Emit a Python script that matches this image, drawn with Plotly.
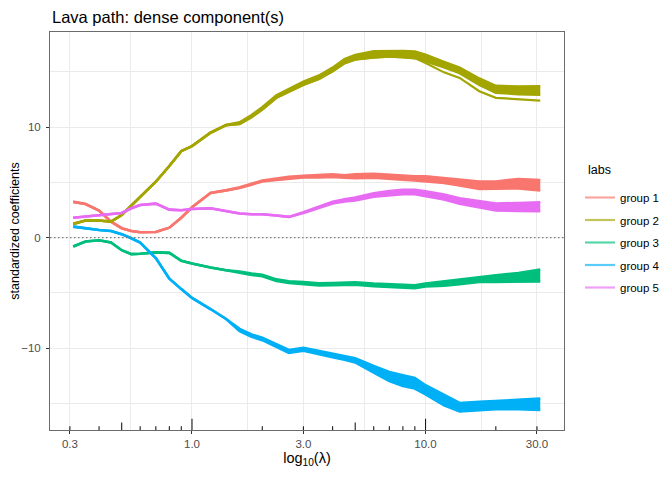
import numpy as np
import plotly.graph_objects as go

# lambda grid (x) shared by every path
lam = [0.31, 0.35, 0.4, 0.45, 0.5, 0.55, 0.6, 0.7, 0.8, 0.9, 1.0, 1.2, 1.4, 1.6, 1.8,
       2.0, 2.3, 2.6, 3.0, 3.5, 4.0, 4.5, 5.0, 6.0, 7.0, 8.0, 9.0, 10, 12, 14, 17, 20, 25, 31]

# upper / lower edge of each bundle of coefficient paths
g1_hi = [3.24, 3.04, 2.45, 1.45, 0.86, 0.61, 0.49, 0.52, 0.91, 1.8, 2.75, 4.05, 4.28, 4.55, 4.87,
         5.18, 5.34, 5.5, 5.6, 5.68, 5.74, 5.65, 5.74, 5.77, 5.68, 5.62, 5.56, 5.55, 5.38, 5.23, 5.08, 5.08, 5.31, 5.22]
g1_lo = [3.24, 3.04, 2.45, 1.45, 0.86, 0.61, 0.49, 0.52, 0.91, 1.8, 2.75, 4.05, 4.28, 4.49, 4.79,
         5.08, 5.22, 5.35, 5.45, 5.45, 5.5, 5.42, 5.39, 5.42, 5.36, 5.24, 5.18, 5.1, 4.94, 4.73, 4.4, 4.43, 4.46, 4.26]

g2_hi = [1.25, 1.55, 1.55, 1.45, 2.05, 2.9, 3.6, 5.06, 6.48, 7.83, 8.28, 9.49, 10.18, 10.44, 11.09,
         11.79, 12.88, 13.43, 14.11, 14.66, 15.37, 16.14, 16.52, 16.85, 16.9, 16.88, 16.84, 16.55, 15.9, 15.38, 14.39, 13.73, 13.67, 13.68]
g2_lo = [1.25, 1.55, 1.55, 1.45, 2.05, 2.9, 3.6, 5.06, 6.48, 7.83, 8.28, 9.49, 10.18, 10.28, 10.91,
         11.59, 12.66, 13.19, 13.83, 14.36, 15.05, 15.78, 16.12, 16.3, 16.38, 16.32, 16.24, 15.95, 15.42, 14.88, 13.82, 13.12, 12.98, 12.92]
# the one group 2 path that splits off below the bundle
g2_alt = [1.25, 1.55, 1.55, 1.45, 2.05, 2.9, 3.6, 5.06, 6.48, 7.83, 8.28, 9.49, 10.18, 10.28, 10.91,
          11.59, 12.66, 13.19, 13.83, 14.36, 15.05, 15.78, 16.12, 16.3, 16.38, 16.32, 16.24, 15.8, 14.95, 14.45, 13.25, 12.65, 12.5, 12.4]

g3_hi = [-0.8, -0.35, -0.23, -0.44, -1.13, -1.49, -1.45, -1.33, -1.37, -2.09, -2.33, -2.7, -2.94, -3.06, -3.24,
         -3.35, -3.77, -3.94, -4.02, -4.13, -4.1, -4.04, -4.03, -4.14, -4.2, -4.25, -4.3, -4.15, -3.95, -3.8, -3.55, -3.4, -3.2, -2.87]
g3_lo = [-0.8, -0.35, -0.23, -0.44, -1.13, -1.49, -1.45, -1.33, -1.37, -2.09, -2.33, -2.7, -2.94, -3.18, -3.36,
         -3.49, -3.91, -4.1, -4.2, -4.33, -4.3, -4.24, -4.25, -4.38, -4.44, -4.51, -4.56, -4.42, -4.35, -4.2, -4.0, -4.0, -3.95, -3.95]

g4_hi = [1.0, 0.83, 0.7, 0.61, 0.32, -0.05, -0.45, -1.85, -3.7, -4.65, -5.45, -6.45, -7.35, -8.24, -8.75,
         -9.05, -9.65, -10.15, -9.97, -10.23, -10.52, -10.72, -10.9, -11.6, -12.14, -12.44, -12.68, -13.34, -14.24, -14.95, -14.85, -14.77, -14.67, -14.55]
g4_lo = [1.0, 0.83, 0.7, 0.61, 0.32, -0.05, -0.45, -1.85, -3.7, -4.65, -5.45, -6.45, -7.35, -8.46, -8.97,
         -9.27, -9.89, -10.41, -10.23, -10.51, -10.82, -11.04, -11.28, -12.2, -12.96, -13.41, -13.64, -14.16, -15.15, -15.72, -15.58, -15.51, -15.51, -15.57]

g5_hi = [1.8, 1.9, 2.03, 2.09, 2.24, 2.66, 2.96, 3.08, 2.54, 2.48, 2.6, 2.66, 2.42, 2.18, 2.12,
         2.12, 2.0, 1.88, 2.31, 2.78, 3.25, 3.48, 3.63, 4.01, 4.22, 4.32, 4.33, 4.19, 3.91, 3.57, 3.3, 3.09, 3.14, 3.21]
g5_lo = [1.8, 1.9, 2.03, 2.09, 2.24, 2.66, 2.96, 3.08, 2.54, 2.48, 2.6, 2.66, 2.42, 2.18, 2.12,
         2.12, 2.0, 1.88, 2.23, 2.66, 3.09, 3.28, 3.37, 3.71, 3.86, 3.94, 3.93, 3.77, 3.45, 3.07, 2.74, 2.47, 2.42, 2.39]

group_names = ["group 1", "group 2", "group 3", "group 4", "group 5"]
group_colors = ["#F8766D", "#A3A500", "#00BF7D", "#00B0F6", "#E76BF3"]
legend_colors = ["rgba(248,118,109,0.65)", "rgba(163,165,0,0.65)", "rgba(0,191,125,0.65)",
                 "rgba(0,176,246,0.65)", "rgba(231,107,243,0.65)"]

x_ticks = [0.3, 1, 3, 10, 30]
x_ticktext = ["0.3", "1.0", "3.0", "10.0", "30.0"]
x_minor = [0.5477, 1.732, 5.477, 17.32]
y_ticks = [-10, 0, 10]
y_minor = [-15, -5, 5, 15]
logtick_vals = [0.3, 0.4, 0.5, 0.6, 0.7, 0.8, 0.9, 1, 2, 3, 4, 5, 6, 7, 8, 9, 10, 20, 30]

X_RANGE = [-0.608, 1.593]
Y_RANGE = [-17.39, 18.6]
FONT = "Liberation Sans, Arial, sans-serif"

# the page body has an 8px margin, so everything is laid out 8px up/left
OFF = 8
MARGIN = dict(l=50 - OFF, r=108 + OFF, t=32 - OFF, b=50 + OFF)
PLOT_W = 672 - MARGIN["l"] - MARGIN["r"]
PLOT_H = 480 - MARGIN["t"] - MARGIN["b"]


def add_bundle(fig, hi, lo, name, color):
    fig.add_trace(go.Scatter(x=lam, y=lo, mode="lines", name=name, legendgroup=name,
                             showlegend=False, line=dict(color=color, width=2.6)))
    fig.add_trace(go.Scatter(x=lam, y=hi, mode="lines", name=name, legendgroup=name,
                             showlegend=False, fill="tonexty", fillcolor=color,
                             line=dict(color=color, width=2.6)))


def logtick_trace():
    # annotation_logticks style marks along the bottom of the panel
    px_per_unit = PLOT_H / (Y_RANGE[1] - Y_RANGE[0])
    xs, ys = [], []
    for v in logtick_vals:
        mant = round(v / 10 ** np.floor(np.log10(v) + 1e-9))
        length = 11.3 if mant == 1 else (7.6 if mant == 5 else 3.8)
        xs += [v, v, None]
        ys += [Y_RANGE[0], Y_RANGE[0] + length / px_per_unit, None]
    return go.Scatter(x=xs, y=ys, mode="lines", showlegend=False, hoverinfo="skip",
                      line=dict(color="#1a1a1a", width=1.1), cliponaxis=False)


fig = go.Figure()
bundles = [(g1_hi, g1_lo), (g2_hi, g2_lo), (g3_hi, g3_lo), (g4_hi, g4_lo), (g5_hi, g5_lo)]
for (hi, lo), name, color in zip(bundles, group_names, group_colors):
    add_bundle(fig, hi, lo, name, color)
    if name == "group 2":
        fig.add_trace(go.Scatter(x=lam, y=g2_alt, mode="lines", legendgroup=name, showlegend=False,
                                 line=dict(color=color, width=2.2)))

# legend keys (paler, like the ggplot keys)
for name, color in zip(group_names, legend_colors):
    fig.add_trace(go.Scatter(x=[None], y=[None], mode="lines", name=name, legendgroup=name,
                             line=dict(color=color, width=2.2)))

fig.add_trace(logtick_trace())
fig.add_hline(y=0, line=dict(color="#7a7a7a", width=1.3, dash="1.5px,2.5px"))

# legend title as its own text so the gap to the keys matches
fig.add_annotation(text="labs", xref="paper", yref="paper",
                   x=(586 - 50) / PLOT_W, y=(430 - 170) / PLOT_H, xanchor="left", yanchor="middle",
                   showarrow=False, font=dict(size=12.5, color="black"))

fig.update_layout(
    width=672, height=480,
    margin=MARGIN,
    paper_bgcolor="white", plot_bgcolor="white",
    font=dict(family=FONT, color="black"),
    title=dict(text="Lava path: dense component(s)", x=(52 - OFF) / 672, xref="container", xanchor="left",
               y=1 - 9.5 / 480, yref="container", yanchor="middle",
               font=dict(size=16.5, color="black")),
    legend=dict(font=dict(size=11.5), x=(580 - 50) / PLOT_W, xanchor="left",
                y=(430 - 242.5) / PLOT_H, yanchor="middle", tracegroupgap=3.5,
                bgcolor="rgba(0,0,0,0)"),
    showlegend=True,
)

fig.update_xaxes(type="log", range=X_RANGE, tickvals=x_ticks, ticktext=x_ticktext, automargin=False,
                 showgrid=True, gridcolor="#EBEBEB", gridwidth=1.1,
                 minor=dict(tickvals=x_minor, showgrid=True, gridcolor="#EBEBEB", gridwidth=0.55, ticks=""),
                 ticks="outside", ticklen=3, tickcolor="#333333", tickwidth=1,
                 tickfont=dict(size=11.5, color="#4D4D4D"),
                 showline=True, mirror=True, linecolor="#6b6b6b", linewidth=1, zeroline=False,
                 title=dict(text="log<sub>10</sub>(λ)", font=dict(size=14.5), standoff=4))
fig.update_yaxes(range=Y_RANGE, tickvals=y_ticks, automargin=False,
                 showgrid=True, gridcolor="#EBEBEB", gridwidth=1.1,
                 minor=dict(tickvals=y_minor, showgrid=True, gridcolor="#EBEBEB", gridwidth=0.55, ticks=""),
                 ticks="outside", ticklen=3, tickcolor="#333333", tickwidth=1, ticklabelstandoff=3,
                 tickfont=dict(size=11.5, color="#4D4D4D"),
                 showline=True, mirror=True, linecolor="#6b6b6b", linewidth=1, zeroline=False,
                 title=dict(text="standardized coefficients", font=dict(size=12.5), standoff=4))

fig.write_html("out.html")
